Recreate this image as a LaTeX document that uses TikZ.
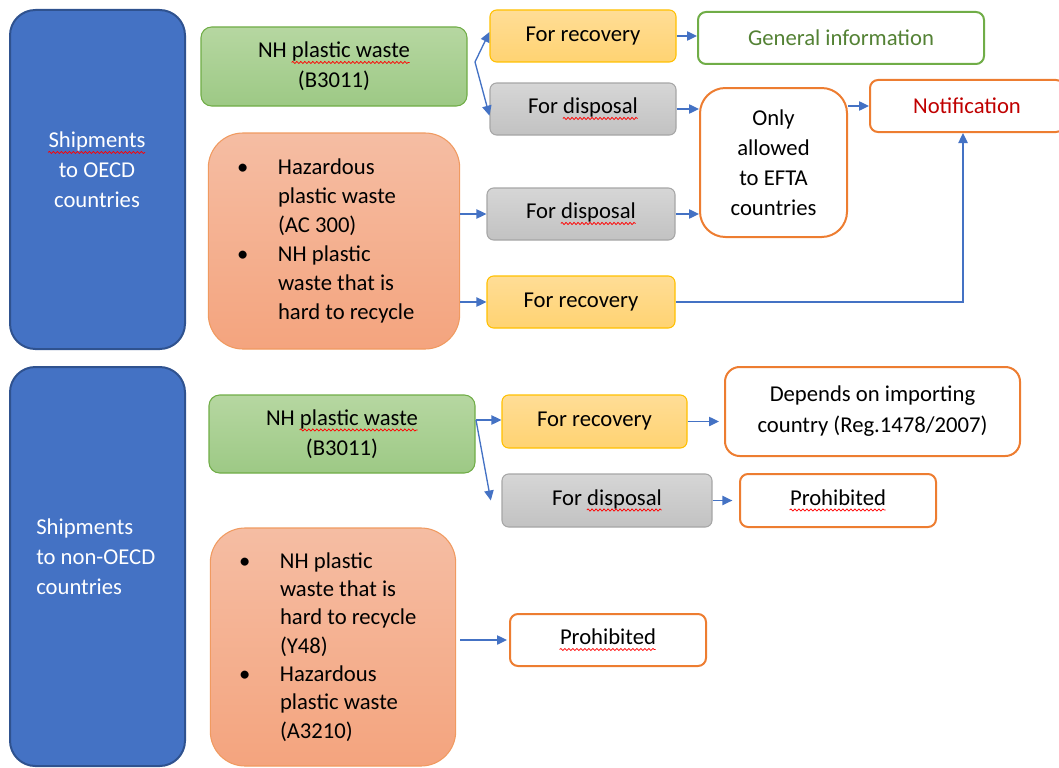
\documentclass[tikz,border=0pt]{standalone}
\usepackage{fontspec}
\setmainfont{Carlito}
\usetikzlibrary{arrows.meta,calc,decorations.pathmorphing}
\newsavebox\wbox
\newcommand\rwave[1]{\sbox\wbox{#1}\usebox\wbox\llap{\tikz[baseline=0pt]\draw[red, line width=0.55pt, sharp corners, decorate, decoration={snake, amplitude=0.8pt, segment length=3pt}] (0pt,-3.5pt) -- (\the\wd\wbox,-3.5pt);}}
\newcommand\bul{\makebox[30.75pt][l]{\textbullet}}
\newcommand\ind{\hspace*{30.75pt}}
\definecolor{cblue}{HTML}{4472C4}
\definecolor{cbluedark}{HTML}{2F528F}
\definecolor{cgreen}{HTML}{70AD47}
\definecolor{cgreenT}{HTML}{B6D7A1}
\definecolor{cgreenB}{HTML}{9DC985}
\definecolor{corange}{HTML}{ED7D31}
\definecolor{csalT}{HTML}{F5BDA3}
\definecolor{csalB}{HTML}{F4A47E}
\definecolor{csalD}{HTML}{F09A60}
\definecolor{cyelT}{HTML}{FFDD96}
\definecolor{cyelB}{HTML}{FFD372}
\definecolor{cyelD}{HTML}{FFC000}
\definecolor{cgrayT}{HTML}{D6D6D6}
\definecolor{cgrayB}{HTML}{C2C2C2}
\definecolor{cgrayD}{HTML}{A6A6A6}
\definecolor{cgitext}{HTML}{548235}
\definecolor{cnotif}{HTML}{C00000}
\tikzset{
  base/.style={rectangle, inner sep=0pt, font=\fontsize{17}{22.5}\selectfont, align=center, text=black},
  bluebox/.style={base, fill=cblue, draw=cbluedark, line width=1.5pt, rounded corners=19pt},
  bluetext/.style={base, text=white, font=\fontsize{17}{22.5}\selectfont},
  greenbox/.style={base, top color=cgreenT, bottom color=cgreenB, draw=cgreen, line width=0.8pt, rounded corners=8pt},
  salbox/.style={base, top color=csalT, bottom color=csalB, draw=csalD, line width=0.8pt, rounded corners=26pt, align=flush left, inner xsep=21.5pt},
  yelbox/.style={base, top color=cyelT, bottom color=cyelB, draw=cyelD, line width=0.8pt, rounded corners=5pt},
  graybox/.style={base, top color=cgrayT, bottom color=cgrayB, draw=cgrayD, line width=0.8pt, rounded corners=5pt},
  obox/.style={base, fill=white, draw=corange, line width=1.5pt, rounded corners=6pt},
  gbox/.style={base, fill=white, draw=cgreen, line width=1.5pt, rounded corners=6pt},
  arr/.style={draw=cblue, line width=1pt, -{Triangle[length=7.5pt,width=7pt]}},
}
\begin{document}
\begin{tikzpicture}[x=0.75pt,y=-0.75pt]
\useasboundingbox (0,0) rectangle (1059,767);
% left blue boxes
\node[bluebox, minimum width=131.25pt, minimum height=254.25pt] (oecd) at (97.5,179.5) {};
\node[bluetext] (oecdT) at (97,170) {\rwave{Shipments}\\to OECD\\countries};
\node[bluebox, minimum width=131.25pt, minimum height=299.25pt] (non) at (97.5,566.5) {};
\node[bluetext, align=flush left, anchor=west] (nonT) at (36,557) {Shipments\\to non-OECD\\countries};
% upper part
\node[greenbox, minimum width=199.5pt, minimum height=59.25pt] (g1) at (334,66.5) {NH \rwave{plastic waste}\\(B3011)};
\node[salbox, text width=145.5pt, minimum height=162pt, font=\fontsize{17}{21.75}\selectfont] (s1) at (334,241)
  {\bul Hazardous\\\ind plastic waste\\\ind (AC 300)\\\bul NH plastic\\\ind waste that is\\\ind hard to recycle};
\node[yelbox, minimum width=139.5pt, minimum height=39pt] (r1) at (583,36) {For recovery};
\node[graybox, minimum width=139.5pt, minimum height=39pt] (d1) at (583,109) {For \rwave{disposal}};
\node[graybox, minimum width=141pt, minimum height=39pt] (d2) at (581,214) {For \rwave{disposal}};
\node[yelbox, minimum width=141pt, minimum height=39pt] (r2) at (581,302) {For recovery};
\node[gbox, minimum width=214.5pt, minimum height=39pt, text=cgitext] (gi) at (841,38) {General information};
\node[obox, rounded corners=19pt, minimum width=110.25pt, minimum height=111.75pt] (only) at (773.5,162.5) {Only\\allowed\\to EFTA\\countries};
\node[obox, minimum width=145.5pt, minimum height=39pt, text=cnotif] (notif) at (967,106) {Notification};
\coordinate (b1) at (475,62);
\draw[arr] (b1) -- ([yshift=3pt]r1.west);
\draw[arr] (b1) -- ([yshift=-5pt]d1.west);
\draw[arr] (r1.east) -- (r1.east -| gi.west);
\draw[arr] (d1.east) -- (d1.east -| only.west);
\draw[arr] (d2.east) -- (d2.east -| only.west);
\draw[arr] (notif.west -| only.east) -- (notif.west);
\draw[arr] (s1.east |- d2.west) -- (d2.west);
\draw[arr] (s1.east |- r2.west) -- (r2.west);
\draw[arr] (r2.east) -| ([xshift=-3pt]notif.south);
% lower part
\node[greenbox, minimum width=199.5pt, minimum height=58.5pt] (g2) at (342,434) {NH \rwave{plastic waste}\\(B3011)};
\node[yelbox, minimum width=138.75pt, minimum height=39.75pt] (r3) at (594.5,421.5) {For recovery};
\node[graybox, minimum width=157.5pt, minimum height=39.75pt] (d3) at (607,500.5) {For \rwave{disposal}};
\node[obox, rounded corners=11pt, minimum width=221.25pt, minimum height=66.75pt, font=\fontsize{17}{23.25}\selectfont] (dep) at (872.5,411.5) {Depends on importing\\country (Reg.1478/2007)};
\node[obox, minimum width=147pt, minimum height=39.75pt] (p1) at (838,500.5) {\rwave{Prohibited}};
\node[salbox, text width=141pt, minimum height=178.5pt, font=\fontsize{17}{21.25}\selectfont] (s2) at (333,647)
  {\bul NH plastic\\\ind waste that is\\\ind hard to recycle\\\ind (Y48)\\\bul Hazardous\\\ind plastic waste\\\ind (A3210)};
\node[obox, minimum width=147pt, minimum height=39pt] (p2) at (608,640) {\rwave{Prohibited}};
\coordinate (b2) at (476,420);
\draw[arr] (b2) -- (b2 -| r3.west);
\draw[arr] (b2) -- ([xshift=-8pt]d3.west);
\draw[arr, shorten >=3.75pt] (r3.east) -- (r3.east -| dep.west);
\draw[arr, shorten >=5pt] (d3.east) -- (d3.east -| p1.west);
\draw[arr, shorten <=3pt, shorten >=1.5pt] (s2.east |- p2.west) -- (p2.west);
\end{tikzpicture}
\end{document}
